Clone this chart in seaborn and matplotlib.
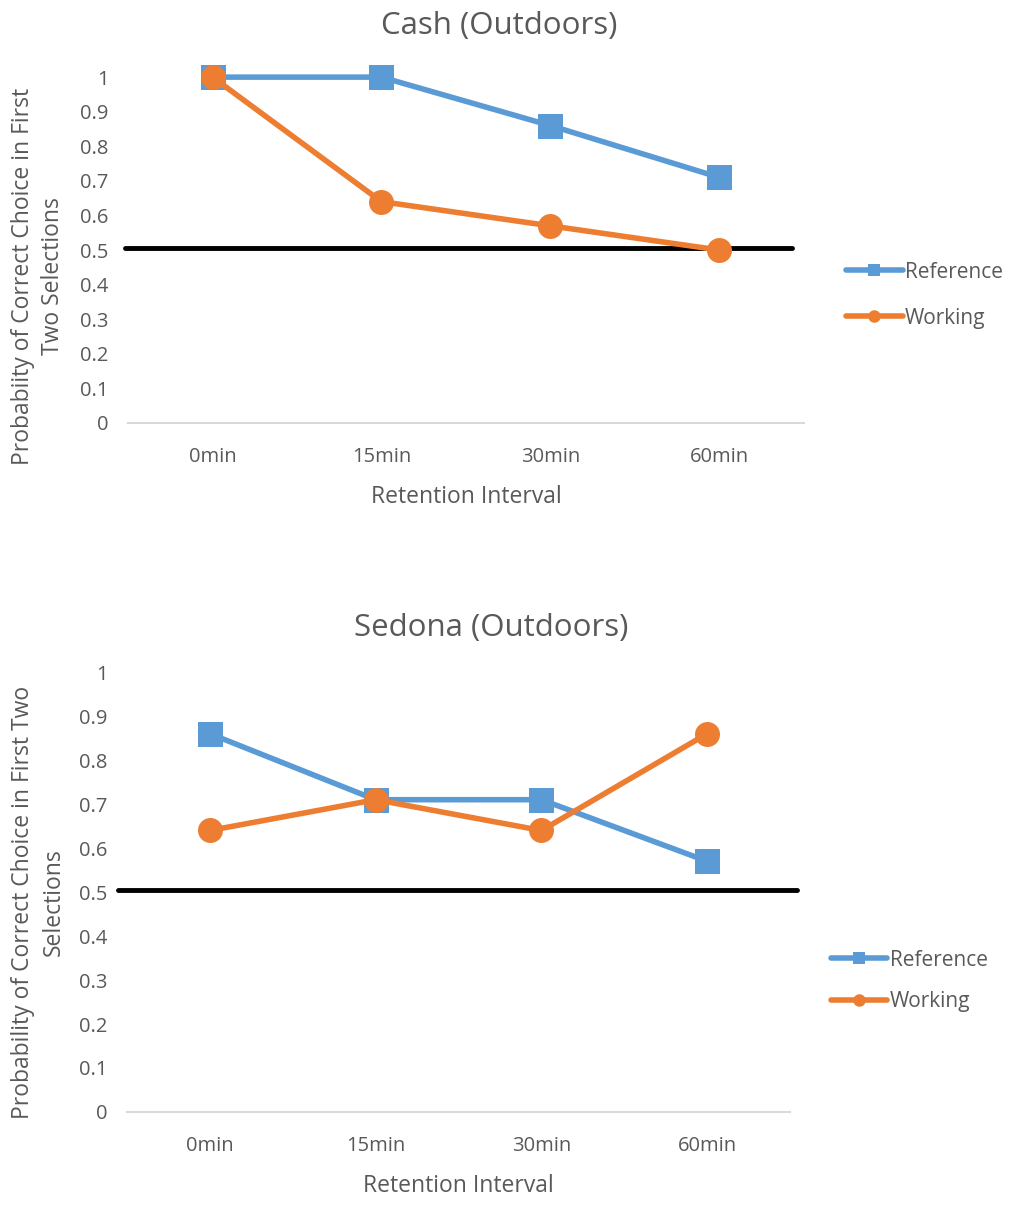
import pandas as pd
import numpy as np
import matplotlib
matplotlib.use("Agg")
import matplotlib.pyplot as plt
import seaborn as sns
from matplotlib.lines import Line2D

intervals = ["0min", "15min", "30min", "60min"]
cash_reference = [1.0, 1.0, 0.86, 0.71]
cash_working = [1.0, 0.64, 0.57, 0.50]
sedona_reference = [0.86, 0.71, 0.71, 0.57]
sedona_working = [0.64, 0.71, 0.64, 0.86]
chance_level = 0.505

sns.set_style("white")
plt.rcParams['font.family'] = ['Open Sans', 'DejaVu Sans']

BLUE = "#5B9BD5"
ORANGE = "#ED7D31"
TEXT = "#595959"


def long_df(ref, work):
    return pd.DataFrame({
        "interval": intervals * 2,
        "prob": ref + work,
        "group": ["Reference"] * 4 + ["Working"] * 4,
    })


def draw_panel(ax, df, title, title_pad, ylabel, ylabel_xy, line_span,
               legend_xy, legend_spacing, fig):
    sns.lineplot(data=df, x="interval", y="prob", hue="group", style="group",
                 markers={"Reference": "s", "Working": "o"}, dashes=False,
                 palette={"Reference": BLUE, "Working": ORANGE},
                 markersize=18, linewidth=4, markeredgewidth=0,
                 sort=False, ax=ax, legend=False, clip_on=False, zorder=3)
    ax.axhline(chance_level, xmin=line_span[0], xmax=line_span[1],
               color="black", lw=3.5, zorder=2, clip_on=False)
    ax.set_xlim(-0.5, 3.5)
    ax.set_ylim(0, 1)
    ax.set_yticks(np.arange(0, 1.01, 0.1))
    ax.set_yticklabels(["0"] + ["%.1f" % v for v in np.arange(0.1, 0.95, 0.1)] + ["1"])
    for s in ["top", "right", "left"]:
        ax.spines[s].set_visible(False)
    ax.spines["bottom"].set_color("#D9D9D9")
    ax.spines["bottom"].set_linewidth(1.5)
    ax.tick_params(axis="both", length=0, labelsize=14.5, colors=TEXT)
    ax.tick_params(axis="x", pad=17)
    ax.tick_params(axis="y", pad=14)
    ax.set_title(title, fontsize=22.5, color=TEXT, pad=title_pad, x=0.55)
    ax.set_xlabel("Retention Interval", fontsize=16.5, color=TEXT, labelpad=13)
    ax.set_ylabel(ylabel, fontsize=16.5, color=TEXT, linespacing=1.35)
    ax.yaxis.label.set_va("center")
    ax.yaxis.set_label_coords(*ylabel_xy)
    handles = [
        Line2D([], [], color=BLUE, marker="s", markersize=9, lw=4, markeredgewidth=0),
        Line2D([], [], color=ORANGE, marker="o", markersize=9, lw=4, markeredgewidth=0),
    ]
    fig.legend(handles, ["Reference", "Working"], loc="center left",
               bbox_to_anchor=legend_xy, frameon=False, fontsize=15,
               labelcolor=TEXT, handlelength=2.7, handletextpad=0.1,
               labelspacing=legend_spacing)


fig = plt.figure(figsize=(10.13, 12.05), dpi=100)
ax1 = fig.add_axes([0.1264, 0.649, 0.667, 0.287])
ax2 = fig.add_axes([0.1254, 0.0772, 0.6545, 0.365])

draw_panel(ax1, long_df(cash_reference, cash_working), "Cash (Outdoors)", 31,
           "Probabiity of Correct Choice in First\nTwo Selections", (-0.133, 0.425),
           (-0.004, 0.983), (0.817, 0.755), 1.2, fig)
draw_panel(ax2, long_df(sedona_reference, sedona_working), "Sedona (Outdoors)", 26,
           "Probability of Correct Choice in First Two\nSelections", (-0.134, 0.477),
           (-0.014, 1.01), (0.802, 0.186), 0.97, fig)

fig.savefig("out.png", dpi=100, facecolor="white")
